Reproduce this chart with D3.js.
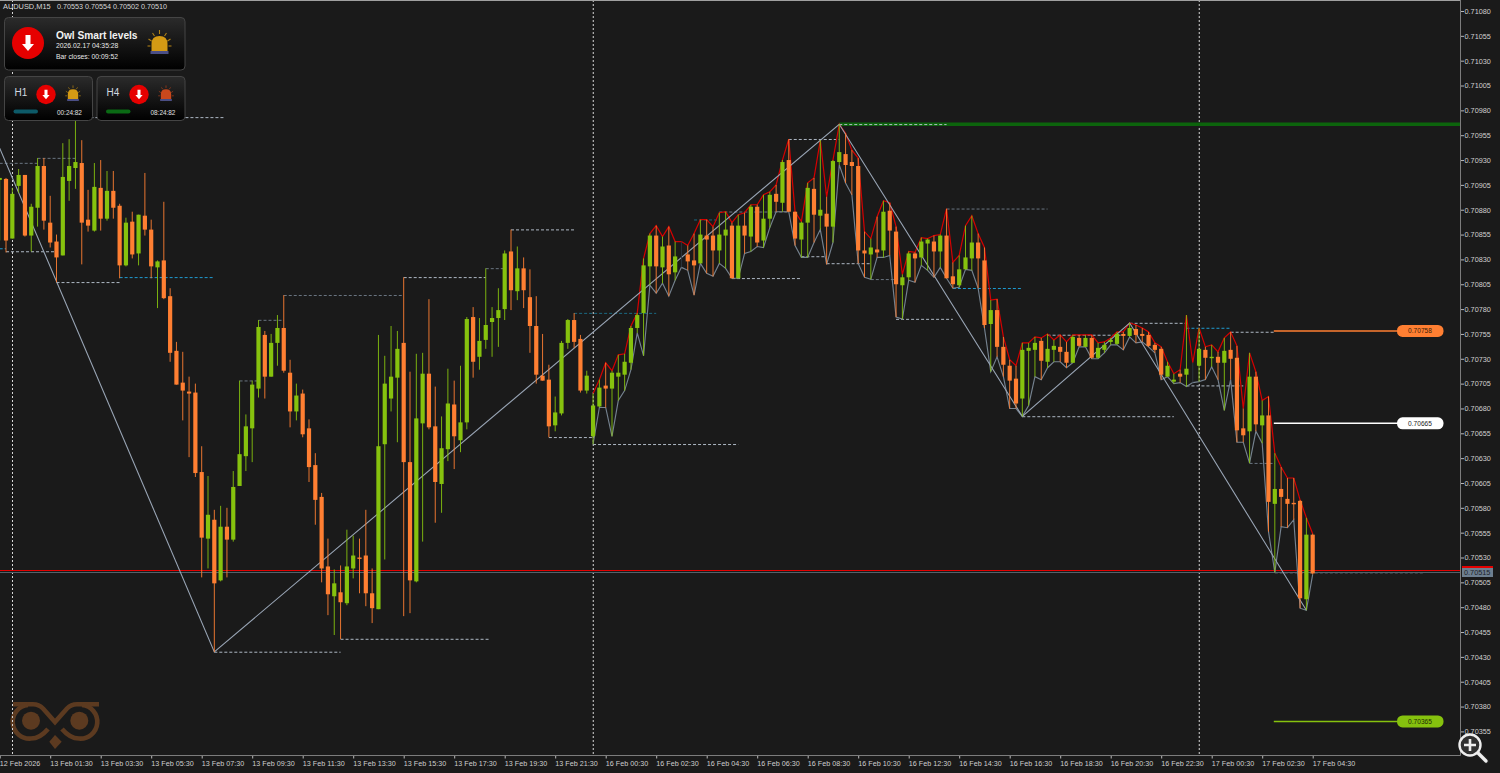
<!DOCTYPE html>
<html>
<head>
<meta charset="utf-8">
<script src="https://cdn.jsdelivr.net/npm/d3@7"></script>
<style>
  html, body { margin: 0; padding: 0; background: #1a1a1a; overflow: hidden; }
  svg { display: block; }
  text { font-family: "Liberation Sans", sans-serif; }
</style>
</head>
<body>
<svg id="chart" width="1500" height="773"></svg>
<script>
// prices in points (1 point = 0.00001), bar 0 sits just right of the left edge
const firstBar = -1;
const opens = [
  70910,70911,70851,70904,70915,70854,70882,70924,70867,70848,
  70834,70909,70922,70927,70870,70859,70902,70871,70899,70884,
  70824,70868,70836,70874,70860,70822,70829,70793,70738,70706,
  70697,70696,70616,70549,70568,70507,70561,70548,70602,70632,
  70660,70700,70754,70712,70746,70761,70716,70677,70695,70660,
  70623,70591,70521,70491,70495,70484,70519,70530,70532,70494,
  70478,70644,70690,70711,70746,70626,70506,70665,70715,70662,
  70604,70639,70684,70648,70666,70772,70732,70749,70767,70771,
  70780,70838,70798,70821,70792,70763,70713,70709,70663,70675,
  70746,70769,70750,70698,70652,70682,70703,70700,70712,70714,
  70726,70761,70776,70823,70854,70822,70844,70817,70833,70835,
  70829,70826,70854,70854,70839,70854,70864,70811,70864,70853,
  70883,70849,70871,70896,70887,70930,70878,70850,70867,70901,
  70874,70876,70863,70928,70936,70928,70924,70839,70835,70840,
  70839,70879,70858,70804,70812,70836,70832,70846,70848,70838,
  70854,70813,70804,70820,70831,70847,70829,70765,70779,70742,
  70723,70710,70690,70738,70739,70748,70727,70739,70742,70737,
  70726,70751,70742,70751,70731,70739,70747,70745,70755,70753,
  70760,70755,70754,70744,70740,70712,70707,70715,70714,70716,
  70723,70739,70731,70732,70726,70739,70731,70660,70657,70712,
  70663,70673,70584,70599,70589,70585,70587,70488,70553
];
const closes = [
  70912,70849,70896,70915,70854,70883,70924,70869,70847,70832,
  70913,70924,70928,70867,70864,70903,70871,70899,70882,70824,
  70867,70835,70875,70860,70823,70828,70791,70736,70704,70698,
  70695,70615,70550,70573,70504,70561,70548,70601,70634,70662,
  70704,70762,70712,70746,70761,70718,70677,70693,70654,70621,
  70588,70519,70493,70504,70485,70521,70532,70529,70494,70479,
  70642,70705,70712,70740,70626,70507,70670,70715,70661,70606,
  70640,70685,70652,70666,70770,70727,70748,70764,70771,70779,
  70836,70799,70821,70799,70763,70714,70708,70662,70676,70746,
  70769,70747,70698,70713,70683,70701,70700,70716,70716,70727,
  70761,70774,70824,70854,70823,70843,70815,70833,70833,70828,
  70824,70855,70850,70839,70855,70860,70811,70864,70854,70883,
  70847,70871,70895,70888,70928,70878,70851,70867,70902,70875,
  70880,70863,70929,70938,70925,70924,70839,70836,70842,70837,
  70878,70859,70805,70812,70836,70831,70848,70850,70838,70854,
  70811,70805,70820,70832,70847,70831,70764,70779,70742,70724,
  70708,70685,70739,70741,70746,70728,70740,70743,70737,70726,
  70752,70743,70751,70731,70741,70744,70749,70755,70753,70761,
  70754,70753,70743,70739,70714,70723,70709,70712,70720,70716,
  70740,70731,70732,70726,70738,70730,70658,70653,70712,70664,
  70673,70586,70599,70591,70584,70584,70489,70553,70514
];
const highs = [
  70912,70912,70902,70921,70915,70886,70932,70932,70894,70855,
  70947,70951,70973,70950,70900,70927,70930,70919,70919,70886,
  70872,70878,70875,70917,70870,70829,70888,70801,70747,70737,
  70712,70705,70642,70612,70578,70582,70580,70617,70708,70674,
  70708,70769,70758,70755,70774,70794,70729,70705,70699,70669,
  70635,70595,70549,70518,70522,70558,70552,70549,70578,70519,
  70754,70733,70763,70758,70812,70717,70735,70736,70790,70702,
  70672,70720,70708,70723,70772,70782,70771,70821,70782,70801,
  70839,70860,70843,70832,70820,70793,70755,70724,70692,70748,
  70770,70776,70754,70718,70695,70709,70726,70718,70734,70735,
  70763,70776,70831,70856,70864,70853,70863,70848,70848,70844,
  70856,70870,70870,70863,70877,70878,70867,70875,70877,70885,
  70885,70895,70898,70905,70930,70951,70878,70868,70907,70912,
  70950,70893,70930,70966,70957,70940,70932,70858,70851,70873,
  70889,70887,70863,70815,70838,70837,70852,70851,70854,70855,
  70881,70827,70834,70864,70874,70856,70842,70789,70790,70752,
  70729,70723,70746,70746,70752,70751,70755,70749,70754,70747,
  70754,70754,70754,70754,70746,70747,70751,70757,70757,70766,
  70764,70761,70757,70746,70742,70727,70715,70719,70774,70726,
  70761,70742,70744,70737,70751,70757,70743,70680,70736,70717,
  70688,70692,70635,70621,70610,70610,70588,70570,70554
];
const lows = [
  70849,70837,70851,70897,70853,70838,70863,70860,70842,70807,
  70834,70889,70901,70825,70858,70858,70859,70869,70871,70811,
  70823,70831,70824,70854,70811,70781,70790,70727,70704,70668,
  70631,70611,70510,70519,70435,70506,70510,70546,70602,70617,
  70626,70691,70690,70712,70723,70716,70661,70668,70651,70606,
  70563,70505,70472,70452,70448,70482,70509,70494,70481,70464,
  70478,70528,70677,70646,70471,70474,70505,70546,70659,70565,
  70575,70627,70619,70636,70659,70711,70719,70740,70732,70742,
  70769,70779,70789,70781,70736,70705,70708,70651,70657,70673,
  70740,70741,70696,70695,70644,70681,70681,70652,70688,70698,
  70719,70756,70733,70804,70796,70806,70793,70809,70822,70819,
  70794,70826,70816,70813,70826,70821,70811,70811,70836,70838,
  70843,70842,70862,70878,70878,70878,70844,70832,70832,70847,
  70860,70825,70847,70925,70907,70895,70826,70812,70810,70832,
  70832,70834,70772,70770,70809,70807,70824,70819,70812,70822,
  70811,70801,70802,70820,70819,70801,70761,70717,70732,70712,
  70680,70680,70672,70683,70712,70709,70721,70727,70727,70721,
  70726,70742,70742,70730,70730,70736,70744,70744,70739,70752,
  70746,70747,70742,70736,70709,70712,70705,70706,70702,70706,
  70707,70709,70722,70709,70678,70709,70646,70646,70625,70657,
  70645,70556,70515,70561,70560,70568,70479,70477,70513
];

// zigzag turning points
const zigzagBars = [-1, 33, 132, 161, 178, 206];
const zigzagPrices = [70942, 70435, 70966, 70672, 70766, 70477];

// dashed swing levels: from bar, to bar, price, kind
const levelFrom = [11,-1,5,0,-1,8,18,44,40,37,63,76,80,90,86,93,53,33,124,132,109,113,115,126,130,137,141,149,150,165,161,178,187,194,187,197,201];
const levelTo = [34.5,5,11,8,0,18,33,63,44,40,76,79,90,103,93,116,76.7,53,132,149,113,124,126,130,137,141,150,165,161,177,185,187,194,201,196,201,224.6];
const levelPrice = [70973,70927,70932,70838,70841,70807,70812,70794,70769,70708,70812,70821,70860,70776,70651,70644,70448,70435,70951,70966,70870,70878,70811,70833,70826,70810,70770,70881,70801,70754,70672,70766,70761,70757,70703,70625,70515];
const levelKind = ["white","dim","dim","white","blue","white","blue","dim","dim","dim","white","dim","white","teal","white","white","white","white","white","white","teal","dim","white","white","white","dim","white","dim","blue","white","white","white","blue","white","white","dim","white"];

// targets on the right side
const targetPrices = [70758, 70665, 70365];
const targetLabels = ["0.70758", "0.70665", "0.70365"];
const targetColors = ["#ff7f32", "#ffffff", "#86c20e"];
const targetText = ["#3a1d08", "#222222", "#1d2a05"];

const resistancePrice = 70966;
const bidPrice = 70517;
const lastPrice = 70515;

// time axis labels, one each 8 bars
const timeBars = [-1, 7, 15, 23, 31, 39, 47, 55, 63, 71, 79, 87, 95, 103, 111, 119, 127, 135, 143, 151, 159, 167, 175, 183, 191, 199, 207];
const timeLabels = ["12 Feb 2026","13 Feb 01:30","13 Feb 03:30","13 Feb 05:30","13 Feb 07:30","13 Feb 09:30","13 Feb 11:30","13 Feb 13:30","13 Feb 15:30","13 Feb 17:30","13 Feb 19:30","13 Feb 21:30","16 Feb 00:30","16 Feb 02:30","16 Feb 04:30","16 Feb 06:30","16 Feb 08:30","16 Feb 10:30","16 Feb 12:30","16 Feb 14:30","16 Feb 16:30","16 Feb 18:30","16 Feb 20:30","16 Feb 22:30","17 Feb 00:30","17 Feb 02:30","17 Feb 04:30"];
const separatorBars = [1, 93, 189];

const bars = opens.map((o, i) => ({ i: i + firstBar, o, h: highs[i], l: lows[i], c: closes[i] }));

const svg = d3.select("#chart");
const bg = "#1a1a1a";
const plotRight = 1460.5, plotBottom = 755.5;

const x = d3.scaleLinear().domain([-1, 207]).range([-0.31, 1312.69]);
const y = d3.scaleLinear().domain([70355, 71080]).range([731.4, 11]);

svg.append("rect").attr("width", 1500).attr("height", 773).attr("fill", bg);

const defs = svg.append("defs");
const grad = defs.append("linearGradient").attr("id", "panelGrad").attr("x1", 0).attr("x2", 0).attr("y1", 0).attr("y2", 1);
grad.append("stop").attr("offset", "0%").attr("stop-color", "#2b2b2b");
grad.append("stop").attr("offset", "100%").attr("stop-color", "#000000");
defs.append("clipPath").attr("id", "plotClip").append("rect").attr("width", plotRight).attr("height", plotBottom);

const plot = svg.append("g").attr("clip-path", "url(#plotClip)");

// owl logo, behind everything
const owl = plot.append("g").attr("fill", "none").attr("stroke", "#5c3a20").attr("stroke-width", 4.6);
owl.append("path").attr("d", "M13 704.2 H33 Q39 704.2 43 708.5 L55 722 L67 708.5 Q71 704.2 77 704.2 H99");
owl.append("path").attr("d", "M28 705 A16.6 16.6 0 0 0 31 738.5 Q40 738.5 48 729");
owl.append("path").attr("d", "M82 705 A16.6 16.6 0 0 1 79 738.5 Q70 738.5 62 729");
owl.append("circle").attr("cx", 31).attr("cy", 720.7).attr("r", 9).attr("fill", "#5c3a20").attr("stroke", "none");
owl.append("circle").attr("cx", 79.3).attr("cy", 720.7).attr("r", 9).attr("fill", "#5c3a20").attr("stroke", "none");
owl.append("path").attr("d", "M55 735 L61.7 741.7 L55 749 L49.3 741.7 Z").attr("fill", "#5c3a20").attr("stroke", "none");

// period separators
plot.selectAll("line.sep").data(separatorBars).join("line")
  .attr("class", "sep")
  .attr("x1", d => x(d) + 0.2).attr("x2", d => x(d) + 0.2)
  .attr("y1", 0).attr("y2", plotBottom)
  .attr("stroke", "#d8d8d8").attr("stroke-dasharray", "2,2");

// resistance line
plot.append("line")
  .attr("x1", x(132)).attr("x2", plotRight)
  .attr("y1", y(resistancePrice)).attr("y2", y(resistancePrice))
  .attr("stroke", "#0c640c").attr("stroke-width", 3.4);

// swing levels
const kindColor = { white: "#aeb8c4", dim: "#6a7581", blue: "#1f9bd1", teal: "#1b6a82" };
plot.selectAll("line.level").data(levelPrice).join("line")
  .attr("class", "level")
  .attr("x1", (d, i) => x(levelFrom[i])).attr("x2", (d, i) => x(levelTo[i]))
  .attr("y1", d => y(d) + 0.3).attr("y2", d => y(d) + 0.3)
  .attr("stroke", (d, i) => kindColor[levelKind[i]])
  .attr("stroke-dasharray", "3,2");

// bid and last lines
plot.append("line").attr("x1", 0).attr("x2", plotRight).attr("y1", 572.5).attr("y2", 572.5)
  .attr("stroke", "#566069").attr("stroke-width", 1.2);
plot.append("line").attr("x1", 0).attr("x2", plotRight).attr("y1", y(bidPrice)).attr("y2", y(bidPrice))
  .attr("stroke", "#e30000").attr("stroke-width", 1.1);

// targets
targetPrices.forEach((p, i) => {
  plot.append("line").attr("x1", x(201) - 1).attr("x2", 1397)
    .attr("y1", y(p)).attr("y2", y(p))
    .attr("stroke", targetColors[i]).attr("stroke-width", 1.5);
  plot.append("rect").attr("x", 1397).attr("y", y(p) - 6).attr("width", 46.5).attr("height", 12).attr("rx", 5.5)
    .attr("fill", targetColors[i]);
  plot.append("text").attr("x", 1420).attr("y", y(p) + 2.4).attr("text-anchor", "middle")
    .attr("font-size", 6.6).attr("fill", targetText[i]).text(targetLabels[i]);
});

// high and low envelope only runs from bar 93 on
const envelope = bars.filter(d => d.i >= 93);
const line = d3.line().x(d => x(d.i));
plot.append("path").datum(envelope)
  .attr("d", line.y(d => y(d.l)))
  .attr("fill", "none").attr("stroke", "#75828f").attr("stroke-width", 1.15);
plot.append("path").datum(envelope)
  .attr("d", line.y(d => y(d.h)))
  .attr("fill", "none").attr("stroke", "#d60000").attr("stroke-width", 1.2);

// zigzag
plot.append("path").datum(zigzagBars.map((b, i) => [x(b), y(zigzagPrices[i])]))
  .attr("d", d3.line())
  .attr("fill", "none").attr("stroke", "#98a4b4").attr("stroke-width", 1.1);

// candles
const candleColor = d => d.c > d.o ? "#86c20e" : d.c < d.o ? "#ff7f32" : "#2c3640";
const candles = plot.selectAll("g.candle").data(bars).join("g").attr("class", "candle");
candles.append("line")
  .attr("x1", d => x(d.i)).attr("x2", d => x(d.i))
  .attr("y1", d => y(d.h)).attr("y2", d => y(d.l))
  .attr("stroke", candleColor).attr("stroke-width", 0.9);
candles.filter(d => d.c !== d.o).append("rect")
  .attr("x", d => x(d.i) - 2.1).attr("width", 4.2)
  .attr("y", d => y(Math.max(d.o, d.c)))
  .attr("height", d => Math.max(1.4, Math.abs(y(d.o) - y(d.c))))
  .attr("fill", candleColor);

// price axis
const yAxis = d3.axisRight(y)
  .tickValues(d3.range(70355, 71081, 25))
  .tickFormat(d => (d / 1e5).toFixed(5))
  .tickSize(3.5).tickPadding(0.5);
const yG = svg.append("g").attr("transform", `translate(${plotRight},0)`).call(yAxis);
yG.select(".domain").remove();
yG.selectAll("line").attr("stroke", "#b8b8b8");
yG.selectAll("text").attr("fill", "#cfcfcf").attr("font-size", 7.3).attr("font-family", "Liberation Sans");

// time axis
const xAxis = d3.axisBottom(x)
  .tickValues(timeBars)
  .tickFormat((d, i) => timeLabels[i])
  .tickSize(3).tickPadding(2.4);
const xG = svg.append("g").attr("transform", `translate(0,${plotBottom})`).call(xAxis);
xG.select(".domain").remove();
xG.selectAll("line").attr("stroke", "#b8b8b8");
xG.selectAll("text").attr("fill", "#cfcfcf").attr("font-size", 7.2).attr("font-family", "Liberation Sans")
  .attr("text-anchor", "start").attr("dx", -0.4);

// frame
const frame = [[0, 0.5, plotRight, 0.5, "#a0a0a0"], [plotRight, 0, plotRight, plotBottom, "#7c7c7c"], [0, plotBottom, plotRight, plotBottom, "#7c7c7c"]];
frame.forEach(f => svg.append("line").attr("x1", f[0]).attr("y1", f[1]).attr("x2", f[2]).attr("y2", f[3]).attr("stroke", f[4]));

// price labels on the axis
svg.append("rect").attr("x", 1462).attr("y", 566).attr("width", 31).attr("height", 2).attr("fill", "#e30000");
svg.append("rect").attr("x", 1462).attr("y", 568).attr("width", 31).attr("height", 9).attr("fill", "#6d7f90");
svg.append("text").attr("x", 1464).attr("y", 575).attr("font-size", 7.3).attr("fill", "#1d2329").text((lastPrice / 1e5).toFixed(5));

// chart header
svg.append("text").attr("x", 3).attr("y", 9).attr("font-size", 7.4).attr("fill", "#d8d8d8").text("AUDUSD,M15");
svg.append("text").attr("x", 57).attr("y", 9).attr("font-size", 7.2).attr("fill", "#d8d8d8")
  .text("0.70553 0.70554 0.70502 0.70510");

// signal panels
function panel(px, py, w, h) {
  svg.append("rect").attr("x", px).attr("y", py).attr("width", w).attr("height", h).attr("rx", 4)
    .attr("fill", "url(#panelGrad)").attr("stroke", "#454545");
}
function arrowBadge(cx, cy, r) {
  svg.append("circle").attr("cx", cx).attr("cy", cy).attr("r", r).attr("fill", "#e60000");
  const s = r / 16;
  svg.append("path")
    .attr("d", `M${cx - 2.5 * s} ${cy - 8 * s} H${cx + 2.5 * s} V${cy + 1 * s} H${cx + 6 * s} L${cx} ${cy + 8 * s} L${cx - 6 * s} ${cy + 1 * s} H${cx - 2.5 * s} Z`)
    .attr("fill", "#ffffff");
}
function siren(cx, cy, s, color) {
  const g = svg.append("g").attr("transform", `translate(${cx},${cy}) scale(${s})`);
  g.selectAll("line").data([[-11, -5, -8, -3], [-7, -11, -5, -8], [0, -14, 0, -10], [7, -11, 5, -8], [11, -5, 8, -3], [-12, 2, -9, 2], [12, 2, 9, 2]]).join("line")
    .attr("x1", d => d[0]).attr("y1", d => d[1]).attr("x2", d => d[2]).attr("y2", d => d[3])
    .attr("stroke", color).attr("stroke-width", 1.1).attr("opacity", 0.8);
  g.append("path").attr("d", "M-8 7 V0 Q-8 -8 0 -8 Q8 -8 8 0 V7 Z").attr("fill", color);
  g.append("rect").attr("x", -9).attr("y", 7).attr("width", 18).attr("height", 3).attr("fill", "#4b4f86");
}
panel(4.5, 17.5, 180.5, 52.5);
arrowBadge(28, 43, 16);
siren(159.5, 44, 1, "#d49a14");
svg.append("text").attr("x", 56).attr("y", 38.5).attr("font-size", 10.2).attr("font-weight", 700).attr("font-family", "Open Sans").attr("fill", "#f2f2f2").text("Owl Smart levels");
svg.append("text").attr("x", 56).attr("y", 48).attr("font-size", 6.8).attr("fill", "#e8e8e8").text("2026.02.17 04:35:28");
svg.append("text").attr("x", 56).attr("y", 58.5).attr("font-size", 6.8).attr("fill", "#e8e8e8").text("Bar closes: 00:09:52");

panel(4.5, 76.5, 88, 44);
arrowBadge(46, 94.5, 9.7);
siren(73, 94.5, 0.65, "#d49a14");
svg.append("text").attr("x", 14.5).attr("y", 96).attr("font-size", 10).attr("fill", "#d0d8e0").text("H1");
svg.append("rect").attr("x", 13.5).attr("y", 109.5).attr("width", 24.5).attr("height", 4).attr("rx", 2).attr("fill", "#0d5a68");
svg.append("text").attr("x", 57).attr("y", 115).attr("font-size", 6.4).attr("fill", "#e0e0e0").text("00:24:82");

panel(97, 76.5, 88, 44);
arrowBadge(139, 94.5, 9.7);
siren(166, 94.5, 0.65, "#c9481c");
svg.append("text").attr("x", 106.5).attr("y", 96).attr("font-size", 10).attr("fill", "#d0d8e0").text("H4");
svg.append("rect").attr("x", 106).attr("y", 109.5).attr("width", 24.5).attr("height", 4).attr("rx", 2).attr("fill", "#0a6a14");
svg.append("text").attr("x", 150.5).attr("y", 115).attr("font-size", 6.4).attr("fill", "#e0e0e0").text("08:24:82");

// magnifier button in the corner
const mag = svg.append("g").attr("fill", "none");
mag.append("line").attr("x1", 1478).attr("y1", 753).attr("x2", 1486).attr("y2", 761).attr("stroke", "#222").attr("stroke-width", 6).attr("stroke-linecap", "round");
mag.append("line").attr("x1", 1478).attr("y1", 753).attr("x2", 1486).attr("y2", 761).attr("stroke", "#eeeeee").attr("stroke-width", 3.4).attr("stroke-linecap", "round");
mag.append("circle").attr("cx", 1470).attr("cy", 745).attr("r", 10.5).attr("fill", "#303030").attr("stroke", "#eeeeee").attr("stroke-width", 2.4);
mag.append("path").attr("d", "M1464 745 H1476 M1470 739 V751").attr("stroke", "#eeeeee").attr("stroke-width", 2.6);
</script>
</body>
</html>
